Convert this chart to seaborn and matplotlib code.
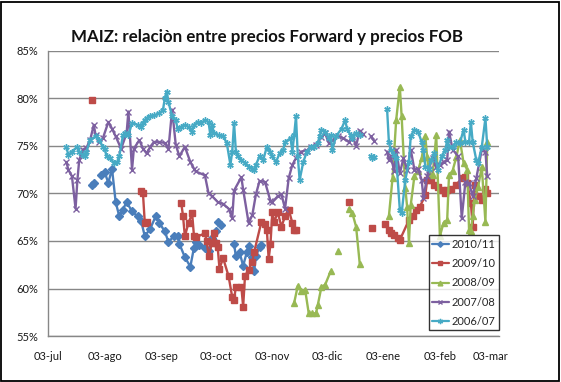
import numpy as np
import pandas as pd
import matplotlib
matplotlib.use('Agg')
import matplotlib.pyplot as plt
import seaborn as sns
from matplotlib.colors import to_hex
from matplotlib.lines import Line2D
from matplotlib.patches import Rectangle

nan = np.nan

# days counted from 03-jul
tick_days = [0, 31, 62, 92, 123, 153, 184, 215, 243]
tick_labels = ['03-jul', '03-ago', '03-sep', '03-oct', '03-nov', '03-dic', '03-ene', '03-feb', '03-mar']
y_ticks = [55, 60, 65, 70, 75, 80, 85]

seasons = ['2010/11', '2009/10', '2008/09', '2007/08', '2006/07']

days_1011 = [24, 25, nan, 29, 31, 33, 35, 37, 39, 41, 43, 46, 49, 51, 53, 56, 59, 61, 64, 66, 69, 71, 72,
             75, 78, 80, 81, 83, 86, 88, 90, 91, 92, nan, 93, 95, nan, 102, 103, 105, 107, 109, 110, 112,
             113, 114, 116, 117]
vals_1011 = [70.9, 71.1, nan, 71.9, 72.2, 71.1, 72.6, 69.1, 67.6, 68.3, 69.1, 68.1, 67.6, 67.1, 65.5, 66.3,
             67.6, 66.9, 66.0, 64.9, 65.5, 65.5, 64.7, 63.3, 62.3, 64.3, 64.9, 64.6, 64.3, 63.9, 65.3, 65.0,
             66.0, nan, 67.0, 66.7, nan, 64.7, 63.4, 63.8, 62.4, 63.8, 64.5, 63.3, 61.8, 63.4, 64.4, 64.6]

days_0910 = [24, nan, 51, 52, 53, 54, nan, 73, 74, 75, 77, 79, 80, 81, 86, 87, 88, 90, 91, 92, 93, 94, 96,
             99, 101, 102, 103, 106, 107, 108, 110, 112, 113, 117, 119, 120, 121, 122, 123, 124, 126, 128,
             130, 132, 134, 135, 136, nan, 165, nan, 178, nan, 185, 187, 188, 190, 192, 193, 198, 200, 202,
             204, 207, 208, 210, 212, 214, 216, 218, 219, 221, 224, 227, 229, 230, 232, 233, 234, 236, 238,
             240, 241]
vals_0910 = [79.8, nan, 70.2, 70.0, 66.9, 67.0, nan, 69.0, 67.6, 65.5, 66.9, 67.9, 65.5, 65.4, 65.8, 65.0,
             63.4, 64.8, 65.8, 64.8, 64.4, 62.1, 63.2, 61.3, 59.1, 58.8, 60.2, 60.2, 58.1, 61.3, 62.0, 62.8,
             63.8, 67.0, 66.8, 66.2, 63.1, 64.7, 68.0, 67.0, 68.0, 66.5, 67.6, 68.3, 66.9, 66.2, 66.2, nan,
             69.1, nan, 66.4, nan, 66.8, 66.2, 65.8, 65.6, 65.3, 65.1, 67.2, 67.6, 68.3, 68.6, 69.8, 71.4,
             71.4, 70.9, 70.7, 70.4, 70.0, 70.4, 70.5, 70.9, 71.6, 71.7, 71.1, 69.0, 66.5, 70.9, 69.7, 69.3,
             70.5, 70.0]

days_0809 = [135, 137, 139, 141, 143, 145, 147, 148, 150, 152, 155, nan, 159, nan, 165, 167, 169, 171, nan,
             187, 189, 191, 193, 194, 196, 197, 198, 199, 201, 203, 205, 207, 208, 209, 211, 213, 215, 217,
             219, 220, 222, 224, 226, 228, 230, 231, 232, 233, 234, 236, 238, 240, 241]
vals_0809 = [58.5, 60.3, 59.7, 59.9, 57.4, 57.4, 57.4, 58.3, 60.2, 60.4, 61.8, nan, 63.9, nan, 68.4, 67.9,
             66.5, 62.6, nan, 67.6, 71.6, 77.7, 81.2, 78.1, 70.6, 68.6, 64.8, 68.8, 71.8, 72.4, 73.7, 76.0,
             73.8, 72.1, 71.9, 76.1, 65.5, 66.9, 67.2, 71.9, 72.4, 73.8, 75.6, 73.2, 72.5, 66.2, 66.0, 67.6,
             69.3, 70.7, 72.8, 67.0, 75.4]

days_0708 = [10, 11, 13, 15, 16, 17, 19, 21, 23, 25, 26, 28, 30, 33, 35, 37, 40, 43, 44, 46, 47, 50, 52, 54,
             56, 58, 61, 64, 66, 68, 70, 72, 75, 78, 80, 81, 86, 88, 90, 93, 96, 99, 101, 102, 106, 107, 110,
             112, 114, 116, 119, 122, 123, 126, 128, 130, 132, 134, 136, 139, 142, 144, 147, 150, 152, 154,
             156, 159, 162, 165, 167, 169, 171, 173, nan, 177, 179, nan, 186, 187, 188, 190, 191, 193, 195,
             197, 199, 201, 203, 205, 206, 208, 209, 211, 213, 215, 217, 219, 220, 222, 225, 227, 229, 231,
             233, 235, 238, 240, 241]
vals_0708 = [73.3, 72.5, 71.8, 68.4, 71.4, 73.5, 74.6, 74.8, 75.6, 77.2, 76.1, 75.4, 75.8, 77.5, 76.8, 76.0,
             74.7, 76.3, 78.6, 72.5, 74.7, 75.6, 74.7, 74.2, 74.9, 75.4, 75.4, 75.3, 74.7, 78.8, 75.1, 73.9,
             74.9, 73.3, 72.6, 72.3, 71.9, 70.0, 69.7, 69.1, 68.9, 68.4, 67.4, 70.3, 71.7, 70.4, 66.9, 67.7,
             69.9, 71.3, 71.2, 69.2, 69.1, 69.7, 69.9, 68.4, 71.6, 73.0, 73.7, 74.4, 74.5, 74.9, 75.1, 75.9,
             76.3, 75.3, 75.6, 76.0, 75.8, 75.4, 76.0, 75.0, 76.6, 76.2, nan, 76.0, 75.5, nan, 74.4, 73.5,
             73.9, 72.3, 74.6, 72.1, 73.7, 72.5, 74.6, 72.5, 72.6, 71.4, 69.5, 71.8, 72.6, 73.7, 72.8, 73.0,
             73.3, 73.5, 76.5, 74.6, 73.9, 67.4, 71.2, 71.1, 69.7, 71.6, 74.6, 74.4, 71.8]

days_0607 = [10, 11, 13, 16, 17, 19, 20, 21, 23, 26, 28, 30, 31, 32, 34, 36, 38, 39, 41, 42, 44, 46, 49, 51,
             52, 53, 54, 56, 58, 61, 63, 64, 65, 66, 68, 70, 71, 73, 75, 77, 79, 80, 82, 84, 86, 88, 89, 90,
             91, 94, 96, 98, 100, 101, 102, 103, 104, 106, 108, 110, 112, 113, 114, 116, 118, 120, 122, 123,
             125, 127, 129, 130, 133, 134, 135, 136, 137, 138, 140, 142, 144, 146, 148, 149, 150, 152, 154,
             155, 156, 158, 161, 163, 164, 166, 167, 169, 171, nan, 177, 178, 179, nan, 186, 187, 188, 190,
             191, 193, 194, 196, 198, 199, 201, 203, 205, 206, 207, 209, 210, 212, 214, 216, 218, 219, 220,
             222, 224, 226, 228, 229, 231, 232, 233, 235, 236, 238, 240, 241]
vals_0607 = [74.9, 74.0, 74.4, 74.9, 74.4, 74.0, 73.9, 74.4, 75.6, 76.0, 75.6, 74.9, 74.7, 73.9, 73.7, 73.2,
             73.3, 73.9, 76.1, 76.3, 76.1, 77.4, 77.2, 77.0, 77.4, 77.7, 77.9, 78.1, 78.2, 78.4, 78.8, 80.0,
             80.7, 79.6, 78.1, 77.7, 76.8, 77.0, 77.2, 77.0, 76.5, 77.2, 77.5, 77.4, 77.7, 77.5, 76.1, 77.2,
             76.3, 76.1, 76.0, 75.3, 73.0, 74.4, 77.4, 74.4, 73.9, 73.5, 73.2, 72.8, 72.6, 72.5, 73.0, 73.9,
             73.5, 74.9, 74.4, 73.9, 73.3, 74.2, 74.6, 75.4, 75.8, 74.4, 76.1, 78.1, 73.9, 71.4, 73.3, 74.4,
             74.9, 74.9, 75.3, 76.0, 76.7, 76.5, 75.8, 76.1, 74.6, 76.0, 76.8, 77.7, 76.8, 76.1, 75.8, 76.3,
             76.1, nan, 73.9, 73.7, 73.8, nan, 78.9, 75.4, 74.6, 74.0, 73.7, 68.3, 67.9, 71.4, 73.3, 76.0,
             76.7, 76.5, 75.4, 74.6, 72.8, 72.6, 73.5, 74.2, 72.5, 73.9, 74.6, 75.6, 74.9, 74.9, 75.4, 75.3,
             76.7, 75.4, 75.4, 77.5, 75.4, 73.5, 73.2, 74.9, 77.9, 74.9]

colors = {'2010/11': '#4a7ebb', '2009/10': '#be4b48', '2008/09': '#98b954',
          '2007/08': '#7d60a0', '2006/07': '#46aac5'}
markers = {'2010/11': 'D', '2009/10': 's', '2008/09': '^', '2007/08': 'x', '2006/07': (6, 2, 0)}
msizes = {'2010/11': 3.6, '2009/10': 3.8, '2008/09': 4.2, '2007/08': 4.0, '2006/07': 4.6}

series = [('2010/11', days_1011, vals_1011), ('2009/10', days_0910, vals_0910),
          ('2008/09', days_0809, vals_0809), ('2007/08', days_0708, vals_0708),
          ('2006/07', days_0607, vals_0607)]

# long table, a new segment id at each gap so lines break like in excel
rows = []
for name, days, vals in series:
    seg = 0
    for d, v in zip(days, vals):
        if np.isnan(v):
            seg += 1
            continue
        rows.append((name, f'{name}-{seg}', d, v))
df = pd.DataFrame(rows, columns=['season', 'seg', 'day', 'val'])

sns.set_theme(style='white')
plt.rcParams['font.family'] = ['Lato', 'DejaVu Sans']

fig = plt.figure(figsize=(5.61, 3.82), dpi=100)
ax = fig.add_axes([0.086, 0.12, 0.803, 0.7475])

sns.lineplot(data=df, x='day', y='val', hue='season', units='seg',
             estimator=None, sort=False, hue_order=seasons,
             palette=colors, linewidth=1.7, legend=False, ax=ax)

# excel style markers, picked by line colour (seaborn won't mix x with filled ones)
by_color = {to_hex(c): n for n, c in colors.items()}
for line in ax.lines:
    c = to_hex(line.get_color())
    name = by_color.get(c)
    if name is None:
        continue
    line.set_marker(markers[name])
    line.set_markersize(msizes[name])
    line.set_markeredgecolor(c)
    line.set_markerfacecolor(c)
    line.set_markeredgewidth(1.0)

ax.set_xlim(0, 247.3)
ax.set_ylim(55, 85)
ax.set_xticks(tick_days)
ax.set_xticklabels(tick_labels)
ax.set_yticks(y_ticks)
ax.set_yticklabels([f'{t}%' for t in y_ticks])
ax.set_xlabel('')
ax.set_ylabel('')
ax.grid(axis='y', color='#878787', linewidth=1.0)
ax.set_axisbelow(True)
for s in ['top', 'right']:
    ax.spines[s].set_visible(False)
for s in ['left', 'bottom']:
    ax.spines[s].set_color('#878787')
    ax.spines[s].set_linewidth(1.0)
ax.tick_params(axis='both', which='major', direction='out', length=4, width=1.0,
               color='#878787', labelsize=8, labelcolor='#1a1a1a', pad=3)
ax.tick_params(axis='x', pad=7)

handles = [Line2D([], [], color=colors[n], marker=markers[n], markersize=msizes[n] - 0.8,
                  markerfacecolor=colors[n], markeredgecolor=colors[n], lw=1.6) for n in seasons]
leg = ax.legend(handles, seasons, loc='lower right', bbox_to_anchor=(1.0, 0.02), frameon=True,
                fancybox=False, edgecolor='black', fontsize=8, handlelength=1.5,
                handletextpad=0.25, labelspacing=0.75, borderpad=0.3, borderaxespad=0.0)
leg.get_frame().set_linewidth(1.0)

fig.text(0.476, 0.903, 'MAIZ: relaciòn entre precios Forward y precios FOB',
         ha='center', va='center', fontsize=12.2, fontweight='bold', color='#111111')

fig.add_artist(Rectangle((0.002, 0.003), 0.995, 0.993, transform=fig.transFigure,
                         fill=False, edgecolor='black', linewidth=1.3))

fig.savefig('out.png', dpi=100)
